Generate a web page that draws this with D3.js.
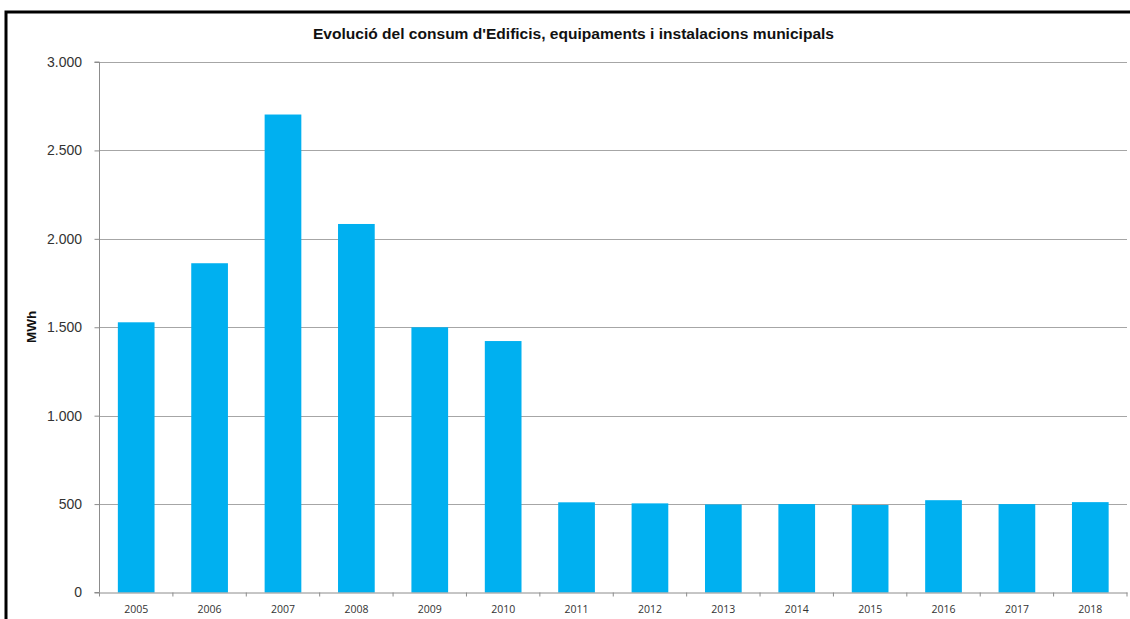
<!DOCTYPE html>
<html>
<head>
<meta charset="utf-8">
<script src="https://cdn.jsdelivr.net/npm/d3@7"></script>
<style>
  html, body { margin: 0; padding: 0; background: #fff; }
  svg { display: block; }
</style>
</head>
<body>
<svg id="chart" width="1130" height="619"></svg>
<script>
const years = ["2005","2006","2007","2008","2009","2010","2011","2012","2013","2014","2015","2016","2017","2018"];
const consum = [1528, 1862, 2703, 2084, 1500, 1422, 510, 504, 498, 500, 495, 522, 500, 511];
const yTicks = [0, 500, 1000, 1500, 2000, 2500, 3000];
const title = "Evolució del consum d'Edificis, equipaments i instalacions municipals";
const yLabel = "MWh";

(function () {
const svg = d3.select("#chart");
const W = 1130, H = 619;
const pLeft = 99.5, pRight = 1127, pTop = 62, pBottom = 592.5;

svg.append("rect").attr("width", W).attr("height", H).attr("fill", "#fff");

const x = d3.scaleBand().domain(years).range([pLeft, pRight]).paddingInner(0.5).paddingOuter(0.25);
const y = d3.scaleLinear().domain([0, 3000]).range([pBottom, pTop]);

// gridlines
svg.append("g").selectAll("line").data(yTicks.filter(d => d > 0)).join("line")
  .attr("x1", pLeft).attr("x2", pRight)
  .attr("y1", d => Math.round(y(d)) + 0.5).attr("y2", d => Math.round(y(d)) + 0.5)
  .attr("stroke", "#a6a6a6").attr("stroke-width", 1.2);

// bars
svg.append("g").selectAll("rect").data(years).join("rect")
  .attr("x", d => x(d))
  .attr("width", x.bandwidth())
  .attr("y", (d, i) => y(consum[i]))
  .attr("height", (d, i) => y(0) - y(consum[i]))
  .attr("fill", "#00b0f0");

// y axis
const yAxis = d3.axisLeft(y).tickValues(yTicks).tickSize(5).tickPadding(12.5)
  .tickFormat(d => d3.format(",")(d).replace(/,/g, "."));
const gy = svg.append("g").attr("transform", `translate(${pLeft},0)`).call(yAxis);
gy.select(".domain").attr("stroke", "#8c8c8c").attr("d", `M-5,${pBottom}H0V${pTop}H-5`);
gy.selectAll(".tick line").attr("stroke", "#8c8c8c");
gy.selectAll(".tick text").attr("font-family", "Liberation Sans, Arial, sans-serif")
  .attr("font-size", 14).attr("fill", "#333");

// x axis
const gx = svg.append("g").attr("transform", `translate(0,${pBottom})`)
  .call(d3.axisBottom(x).tickSize(0).tickPadding(13));
gx.select(".domain").attr("stroke", "#8c8c8c");
gx.selectAll(".tick text").attr("font-family", "Open Sans, DejaVu Sans, sans-serif")
  .attr("font-size", 10.5).attr("fill", "#333");
// boundary tick marks between categories
const bounds = years.map(d => x(d) - x.step() * x.paddingInner() / 2).concat([pRight]);
svg.append("g").selectAll("line").data(bounds).join("line")
  .attr("x1", d => d).attr("x2", d => d)
  .attr("y1", pBottom).attr("y2", pBottom + 4)
  .attr("stroke", "#8c8c8c");

// title
svg.append("text").attr("x", 313).attr("y", 39)
  .attr("textLength", 521).attr("lengthAdjust", "spacingAndGlyphs")
  .attr("font-family", "Liberation Sans, Arial, sans-serif")
  .attr("font-weight", "bold").attr("font-size", 14.5).attr("fill", "#111")
  .text(title);

// y label
svg.append("text").attr("transform", "translate(36,327) rotate(-90)")
  .attr("text-anchor", "middle")
  .attr("font-family", "Liberation Sans, Arial, sans-serif")
  .attr("font-weight", "bold").attr("font-size", 13.5).attr("fill", "#111")
  .text(yLabel);

// outer frame (top and left edges visible)
svg.append("path").attr("d", `M6,${H}V12H${W}`)
  .attr("fill", "none").attr("stroke", "#000").attr("stroke-width", 3);
})();
</script>
</body>
</html>
